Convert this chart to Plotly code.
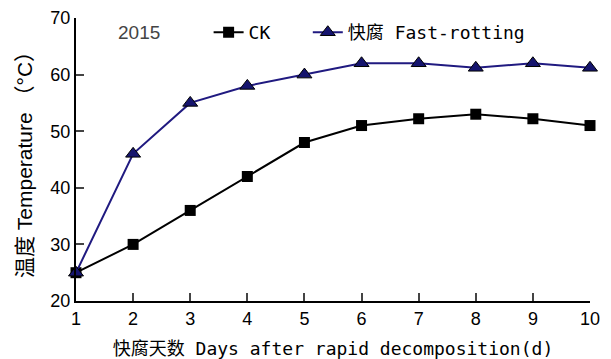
import plotly.graph_objects as go

days = [1, 2, 3, 4, 5, 6, 7, 8, 9, 10]
ck = [25, 30, 36, 42, 48, 51, 52.2, 53, 52.2, 51]
fast = [25, 46, 55, 58, 60, 62, 62, 61.2, 62, 61.2]
yticks = [20, 30, 40, 50, 60, 70]

mono = "DejaVu Sans Mono, Noto Sans CJK SC"
sans = "Liberation Sans, Noto Sans CJK SC"

fig = go.Figure()
fig.add_trace(go.Scatter(
    x=days, y=ck, name="CK\u00a0\u00a0\u00a0", mode="lines+markers",
    line=dict(color="black", width=2),
    marker=dict(symbol="square", size=11, color="black"),
    cliponaxis=False,
))
fig.add_trace(go.Scatter(
    x=days, y=fast, name="快腐 Fast-rotting", mode="lines+markers",
    line=dict(color="#201a80", width=2),
    marker=dict(symbol="triangle-up", size=13, color="#15146e",
                line=dict(color="black", width=1)),
    cliponaxis=False,
))

# page has an 8px body margin; margins compensate so plot area sits at x 76-590, y 18-301
fig.update_layout(
    width=611, height=359,
    margin=dict(l=68, r=29, t=10, b=66, autoexpand=False),
    plot_bgcolor="white", paper_bgcolor="white",
    showlegend=True,
    legend=dict(orientation="h", x=0.258, y=1.014, xanchor="left", yanchor="top",
                font=dict(family=mono, size=18, color="black"),
                bgcolor="rgba(0,0,0,0)", tracegroupgap=0),
    annotations=[dict(text="2015", x=0.077, y=0.95, xref="paper", yref="paper",
                      xanchor="left", yanchor="middle", showarrow=False,
                      font=dict(family="Liberation Sans, Arial", size=19, color="#444444"))],
)
fig.update_xaxes(
    range=[1, 10], tickvals=days, ticks="inside", ticklen=8, tickwidth=2,
    showline=True, linecolor="black", linewidth=2, showgrid=False, zeroline=False,
    automargin=False,
    tickfont=dict(family="Liberation Sans", size=18, color="black"),
    title=dict(text="快腐天数 Days after rapid decomposition(d)",
               font=dict(family=mono, size=18, color="black"), standoff=15),
)
fig.update_yaxes(
    range=[20, 70], tickvals=yticks, ticks="inside", ticklen=8, tickwidth=2,
    showline=True, linecolor="black", linewidth=2, showgrid=False, zeroline=False,
    automargin=False,
    tickfont=dict(family="Liberation Sans", size=18, color="black"),
    title=dict(text="温度 Temperature （°C）",
               font=dict(family=sans, size=21, color="black"), standoff=12),
)

fig.write_html("out.html")
